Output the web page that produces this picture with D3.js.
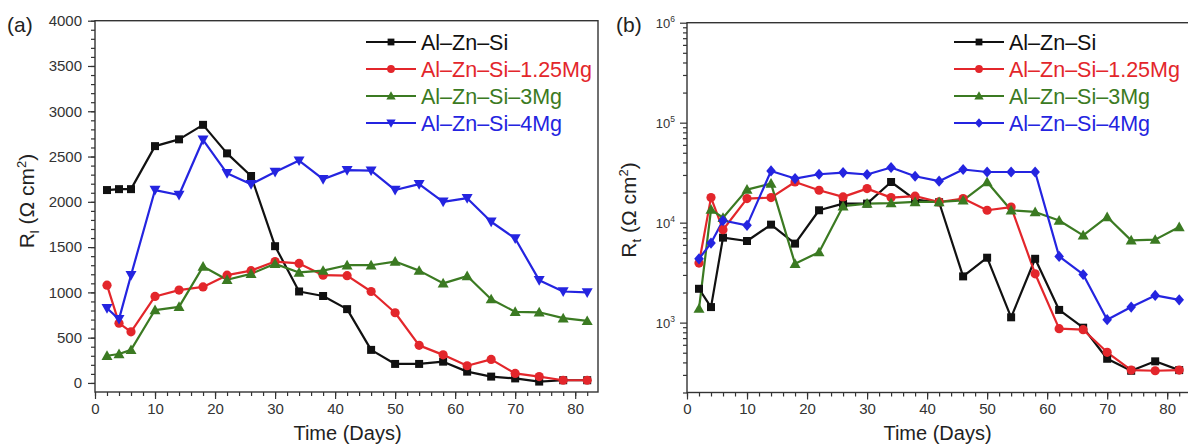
<!DOCTYPE html>
<html>
<head>
<meta charset="utf-8">
<script src="https://cdn.jsdelivr.net/npm/d3@7"></script>
<style>
  html, body { margin: 0; padding: 0; background: #fff; }
  svg { display: block; font-family: "Liberation Sans", Arial, sans-serif; }
</style>
</head>
<body>
<svg id="chart" width="1188" height="448"></svg>
<script>
// ---------------- data ----------------
const days = [2, 4, 6, 10, 14, 18, 22, 26, 30, 34, 38, 42, 46, 50, 54, 58, 62, 66, 70, 74, 78, 82];
const seriesNames = ["Al\u2013Zn\u2013Si", "Al\u2013Zn\u2013Si\u20131.25Mg", "Al\u2013Zn\u2013Si\u20133Mg", "Al\u2013Zn\u2013Si\u20134Mg"];

// Panel (a): R_l (Ω cm²)
const rlAlZnSi   = [2130, 2140, 2140, 2615, 2690, 2850, 2535, 2285, 1510, 1010, 960, 815, 365, 210, 210, 235, 125, 70, 50, 15, 30, 30];
const rlMg125    = [1080, 660, 565, 955, 1025, 1060, 1190, 1240, 1340, 1320, 1190, 1185, 1010, 775, 415, 310, 190, 260, 105, 70, 30, 30];
const rlMg3      = [300, 320, 365, 805, 840, 1285, 1140, 1205, 1315, 1220, 1240, 1300, 1300, 1340, 1240, 1100, 1180, 925, 785, 780, 715, 685];
const rlMg4      = [825, 705, 1190, 2130, 2075, 2685, 2315, 2195, 2330, 2455, 2250, 2350, 2345, 2130, 2195, 2000, 2040, 1780, 1595, 1135, 1010, 1000];

// Panel (b): R_t (Ω cm²)
const rtAlZnSi   = [2180, 1430, 7080, 6550, 9550, 6170, 13300, 15500, 15500, 25500, 17000, 16000, 2900, 4460, 1130, 4350, 1340, 890, 435, 330, 410, 335];
const rtMg125    = [3940, 17800, 8500, 17400, 17800, 25500, 21100, 18100, 21900, 17800, 18400, 16100, 17400, 13300, 14300, 3080, 870, 850, 505, 335, 330, 335];
const rtMg3      = [1380, 13500, 11200, 21400, 24600, 3880, 5070, 14600, 15500, 15700, 16100, 16100, 16700, 25500, 13300, 12800, 10500, 7460, 11400, 6650, 6760, 9030];
const rtMg4      = [4350, 6250, 10500, 9400, 32900, 27600, 30500, 31700, 30300, 35600, 29100, 26000, 34000, 32100, 32100, 32100, 4590, 3030, 1070, 1430, 1870, 1690];

const xTicks = [0, 10, 20, 30, 40, 50, 60, 70, 80];
const yTicksA = [0, 500, 1000, 1500, 2000, 2500, 3000, 3500, 4000];
const yTicksB = [1e3, 1e4, 1e5, 1e6];

// ---------------- styles ----------------
const colors = ["#111111", "#e3262b", "#3b7a22", "#2424e0"];
const shapesA = ["square", "circle", "triUp", "triDown"];
const shapesB = ["square", "circle", "triUp", "diamond"];
const axisColor = "#333";
const textColor = "#333";

const svg = d3.select("#chart");

function markerPath(shape) {
  switch (shape) {
    case "square": return "M-4,-4H4V4H-4Z";
    case "circle": return "M4.6,0A4.6,4.6 0 1,1 -4.6,0A4.6,4.6 0 1,1 4.6,0Z";
    case "triUp": return "M0,-5.5L5.5,4.2L-5.5,4.2Z";
    case "triDown": return "M0,5.5L5.5,-4.2L-5.5,-4.2Z";
    case "diamond": return "M0,-5.6L4.8,0L0,5.6L-4.8,0Z";
  }
}

function drawPanel(opts) {
  const { left, right, top, bottom, x, y, data, shapes, logY } = opts;
  const g = svg.append("g");

  // series
  data.forEach((vals, i) => {
    const pts = days.map((d, k) => [d, vals[k]]);
    const line = d3.line().x(p => x(p[0])).y(p => y(p[1]));
    g.append("path").attr("d", line(pts))
      .attr("fill", "none").attr("stroke", colors[i]).attr("stroke-width", 2.2)
      .attr("stroke-linejoin", "round");
  });
  data.forEach((vals, i) => {
    g.selectAll(null).data(days.map((d, k) => [d, vals[k]])).enter()
      .append("path")
      .attr("d", markerPath(shapes[i]))
      .attr("transform", p => `translate(${x(p[0])},${y(p[1])})`)
      .attr("fill", colors[i]);
  });

  // frame
  g.append("rect").attr("x", left).attr("y", top)
    .attr("width", right - left).attr("height", bottom - top)
    .attr("fill", "none").attr("stroke", axisColor).attr("stroke-width", 1.4);

  // x axis
  const xMinor = d3.range(0, 84, 2);
  const xAxisMinor = d3.axisBottom(x).tickValues(xMinor).tickSize(4).tickFormat("");
  const xAxisMajor = d3.axisBottom(x).tickValues(xTicks).tickSize(7).tickPadding(4).tickFormat(d3.format("d"));
  [xAxisMinor, xAxisMajor].forEach(ax => {
    const a = g.append("g").attr("transform", `translate(0,${bottom})`).call(ax);
    a.select(".domain").remove();
    a.selectAll("line").attr("stroke", axisColor).attr("stroke-width", 1.2);
    a.selectAll("text").attr("font-size", 15).attr("fill", textColor)
      .attr("font-family", "Liberation Sans, Arial, sans-serif");
  });

  // y axis
  if (!logY) {
    const yMinor = d3.range(0, 4001, 100);
    const yAxisMinor = d3.axisLeft(y).tickValues(yMinor).tickSize(4).tickFormat("");
    const yAxisMajor = d3.axisLeft(y).tickValues(yTicksA).tickSize(7).tickPadding(6).tickFormat(d3.format("d"));
    [yAxisMinor, yAxisMajor].forEach(ax => {
      const a = g.append("g").attr("transform", `translate(${left},0)`).call(ax);
      a.select(".domain").remove();
      a.selectAll("line").attr("stroke", axisColor).attr("stroke-width", 1.2);
      a.selectAll("text").attr("font-size", 15).attr("fill", textColor)
        .attr("font-family", "Liberation Sans, Arial, sans-serif");
    });
  } else {
    const yMinor = [];
    [100, 1000, 10000, 100000].forEach(b => { for (let m = 2; m <= 9; m++) { const v = b * m; if (v >= 200 && v <= 1e6) yMinor.push(v); } });
    const yAxisMinor = d3.axisLeft(y).tickValues(yMinor).tickSize(4).tickFormat("");
    const yAxisMajor = d3.axisLeft(y).tickValues(yTicksB).tickSize(7).tickPadding(6).tickFormat("");
    [yAxisMinor, yAxisMajor].forEach(ax => {
      const a = g.append("g").attr("transform", `translate(${left},0)`).call(ax);
      a.select(".domain").remove();
      a.selectAll("line").attr("stroke", axisColor).attr("stroke-width", 1.2);
    });
    yTicksB.forEach(v => {
      const t = g.append("text").attr("x", left - 12).attr("y", y(v) + 5)
        .attr("text-anchor", "end").attr("fill", textColor).attr("font-size", 13);
      t.append("tspan").text("10");
      t.append("tspan").attr("dy", -6).attr("font-size", 8.5).text(String(Math.round(Math.log10(v))));
    });
  }

  // x title
  g.append("text").attr("x", (left + Math.min(right, 1188)) / 2 + (logY ? 0 : 1)).attr("y", 440)
    .attr("text-anchor", "middle").attr("font-size", 20).attr("fill", "#222")
    .text("Time (Days)");

  // y title
  const yt = g.append("text")
    .attr("transform", `translate(${opts.yTitleX},${opts.yTitleY}) rotate(-90)`)
    .attr("text-anchor", "middle").attr("font-size", 21).attr("fill", "#222");
  yt.append("tspan").text("R");
  yt.append("tspan").attr("font-size", 13).attr("dy", 5).text(opts.sub);
  yt.append("tspan").attr("dy", -5).text(" (\u03A9 cm");
  yt.append("tspan").attr("font-size", 13).attr("dy", -8).text("2");
  yt.append("tspan").attr("dy", 8).text(")");

  // panel letter
  g.append("text").attr("x", opts.letterX).attr("y", 32).attr("font-size", 21)
    .attr("fill", "#222").text(opts.letter);

  // legend
  const lg = g.append("g");
  seriesNames.forEach((name, i) => {
    const cy = 42 + i * 27;
    lg.append("line").attr("x1", opts.legX).attr("x2", opts.legX + 50)
      .attr("y1", cy).attr("y2", cy).attr("stroke", colors[i]).attr("stroke-width", 2.2);
    lg.append("path").attr("d", markerPath(shapes[i]))
      .attr("transform", `translate(${opts.legX + 25},${cy}) scale(0.85)`).attr("fill", colors[i]);
    lg.append("text").attr("x", opts.legX + 55).attr("y", cy + 7.5)
      .attr("font-size", 21.5).attr("fill", colors[i]).text(name);
  });
}

// Panel (a)
const xA = d3.scaleLinear().domain([0, 83.8]).range([95, 598]);
const yA = d3.scaleLinear().domain([-100, 4000]).range([392, 20.7]);
drawPanel({
  left: 95, right: 598, top: 20.7, bottom: 392, x: xA, y: yA,
  data: [rlAlZnSi, rlMg125, rlMg3, rlMg4], shapes: shapesA, logY: false,
  yTitleX: 34, yTitleY: 201, sub: "l", letter: "(a)", letterX: 7, legX: 366
});

// Panel (b)
const xB = d3.scaleLinear().domain([0, 83.8]).range([687, 1190]);
const yB = d3.scaleLog().domain([200, 1e6]).range([392.5, 22.7]);
drawPanel({
  left: 687, right: 1190, top: 22.7, bottom: 392.5, x: xB, y: yB,
  data: [rtAlZnSi, rtMg125, rtMg3, rtMg4], shapes: shapesB, logY: true,
  yTitleX: 636, yTitleY: 210, sub: "t", letter: "(b)", letterX: 616, legX: 954
});
</script>
</body>
</html>
